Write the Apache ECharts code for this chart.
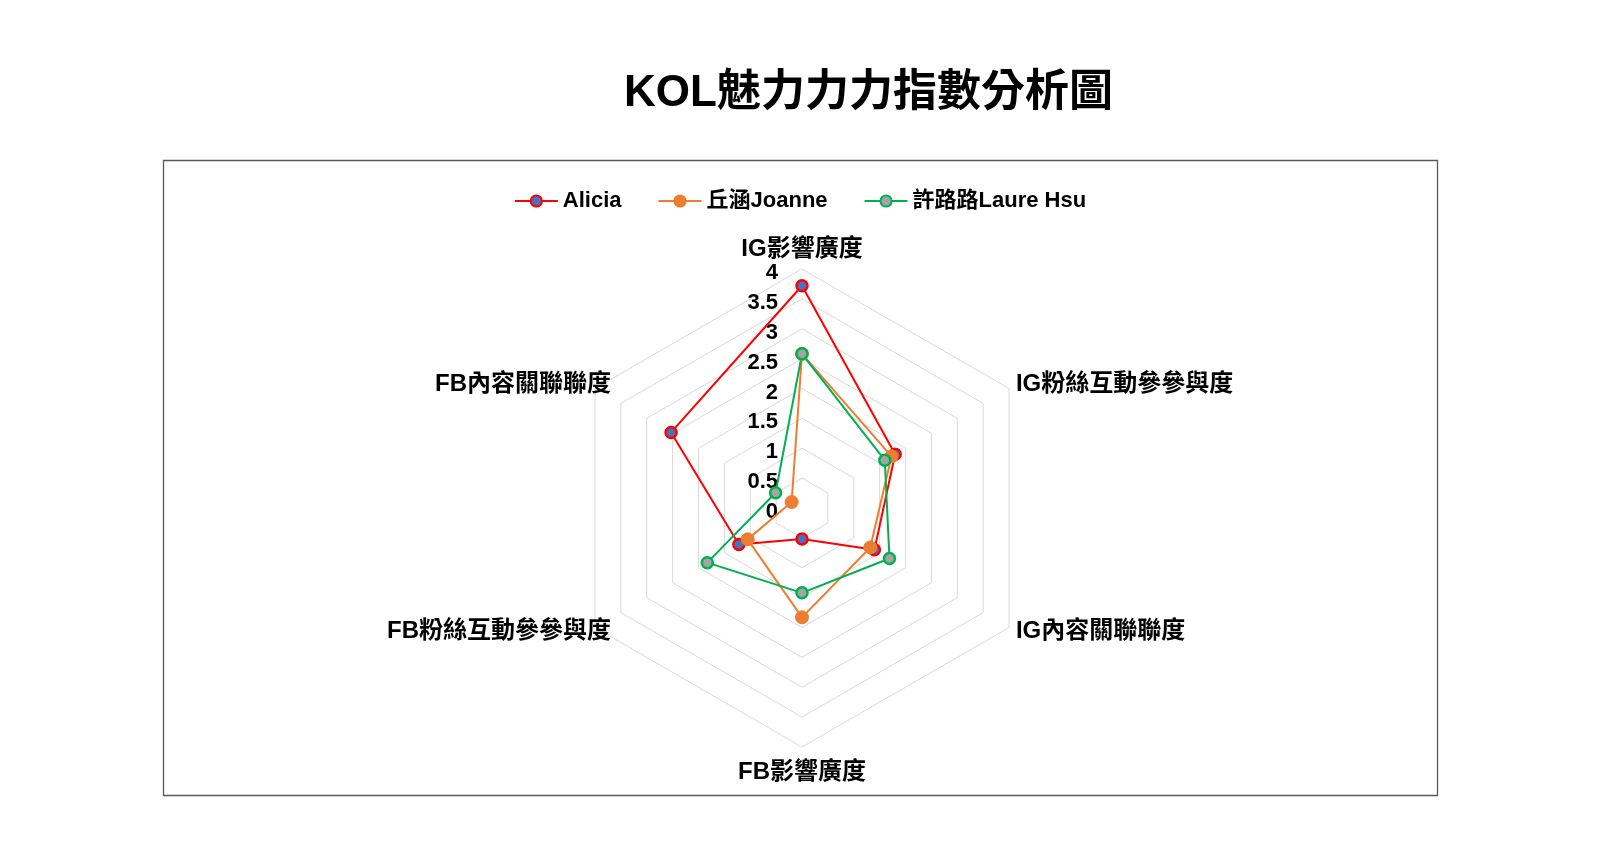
<!DOCTYPE html>
<html>
<head>
<meta charset="utf-8">
<script src="https://cdn.jsdelivr.net/npm/echarts@6/dist/echarts.min.js"></script>
<style>
html,body{margin:0;padding:0;background:#fff;}
#chart{width:1600px;height:850px;}
</style>
</head>
<body>
<div id="chart"></div>
<script>
// Categories in the reference's clockwise order, starting at the top
const categories = ['IG影響廣度', 'IG粉絲互動參參與度', 'IG內容關聯聯度', 'FB影響廣度', 'FB粉絲互動參參與度', 'FB內容關聯聯度'];
const seriesNames = ['Alicia', '丘涵Joanne', '許路路Laure Hsu'];
const aliciaValues = [3.72, 1.8, 1.4, 0.52, 1.22, 2.53];
const joanneValues = [2.58, 1.73, 1.32, 1.83, 1.05, 0.2];
const laureValues = [2.58, 1.6, 1.69, 1.42, 1.83, 0.51];
const axisMax = 4;
const axisSplits = 8;

const FONT = "'Liberation Sans', 'Noto Sans CJK TC', sans-serif";
// ECharts places radar indicators counter-clockwise; reorder to get clockwise layout
const order = [0, 5, 4, 3, 2, 1];
const reorder = arr => order.map(i => arr[i]);
const leftSide = new Set([4, 5]);
const bottomSide = new Set([3]);

const styles = [
  { color: '#4472C4', border: '#FF0000', line: '#FF0000', size: 11, bw: 2.5 },
  { color: '#ED7D31', border: '#ED7D31', line: '#ED7D31', size: 13, bw: 1 },
  { color: '#A5A5A5', border: '#00B050', line: '#00B050', size: 11, bw: 2.5 }
];
const valueSets = [aliciaValues, joanneValues, laureValues];

const labelStyle = { color: '#000', fontSize: 22, fontWeight: 'bold', fontFamily: FONT };
const indicator = order.map((i, k) => {
  const ind = { name: categories[i], min: 0, max: axisMax };
  if (k === 0) {
    ind.axisLabel = Object.assign({}, labelStyle, {
      show: true, margin: 24, showMinLabel: true, showMaxLabel: true,
      formatter: '{v|{value}}',
      rich: { v: Object.assign({}, labelStyle, { padding: [8, 0, 0, 0] }) }
    });
  }
  return ind;
});

const chart = echarts.init(document.getElementById('chart'));
const series = [];
// legend-only line series (empty) so legend shows line + marker icons
seriesNames.forEach((n, s) => {
  series.push({
    type: 'line', name: n, data: [], xAxisIndex: 0, yAxisIndex: 0,
    symbol: 'circle', symbolSize: styles[s].size,
    itemStyle: { color: styles[s].color, borderColor: styles[s].border, borderWidth: 2 },
    lineStyle: { color: styles[s].line, width: 2 }
  });
});
seriesNames.forEach((n, s) => {
  series.push({
    type: 'radar', name: n, symbol: 'circle', symbolSize: styles[s].size,
    itemStyle: { color: styles[s].color, borderColor: styles[s].border, borderWidth: styles[s].bw },
    lineStyle: { color: styles[s].line, width: 2 },
    emphasis: { disabled: true },
    data: [{ name: n, value: reorder(valueSets[s]) }]
  });
});

const nameStyle = { fontSize: 24, fontWeight: 'bold', fontFamily: FONT, color: '#000' };

chart.setOption({
  backgroundColor: '#fff',
  animation: false,
  title: {
    text: 'KOL魅力力力指數分析圖',
    left: 619, top: 67,
    textStyle: { fontSize: 44, fontWeight: 'bold', color: '#000', fontFamily: FONT }
  },
  legend: {
    data: seriesNames,
    top: 185, left: 'center',
    itemWidth: 43, itemHeight: 14, itemGap: 36,
    textStyle: { fontSize: 22, fontWeight: 'bold', color: '#000', fontFamily: FONT }
  },
  grid: { left: 0, top: 0, width: 1, height: 1, show: false },
  xAxis: { type: 'category', show: false, data: [] },
  yAxis: { type: 'value', show: false },
  graphic: [{
    type: 'rect', silent: true, z: -1,
    shape: { x: 163.5, y: 160.5, width: 1274, height: 635 },
    style: { fill: 'none', stroke: '#595959', lineWidth: 1.3 }
  }],
  radar: {
    center: [802, 508], radius: 239, startAngle: 90, splitNumber: axisSplits,
    indicator: indicator,
    nameGap: 8,
    axisName: Object.assign({}, nameStyle, {
      formatter: function (name) {
        const idx = categories.indexOf(name);
        if (leftSide.has(idx)) return '{l|' + name + '}';
        if (bottomSide.has(idx)) return '{b|' + name + '}';
        return name;
      },
      rich: {
        l: Object.assign({}, nameStyle, { padding: [0, -23, 0, 0] }),
        b: Object.assign({}, nameStyle, { padding: [5, 0, 0, 0] })
      }
    }),
    splitLine: { lineStyle: { color: '#D9D9D9', width: 1 } },
    splitArea: { show: false },
    axisLine: { show: false },
    axisTick: { show: false },
    axisLabel: { show: false }
  },
  series: series
});
</script>
</body>
</html>
